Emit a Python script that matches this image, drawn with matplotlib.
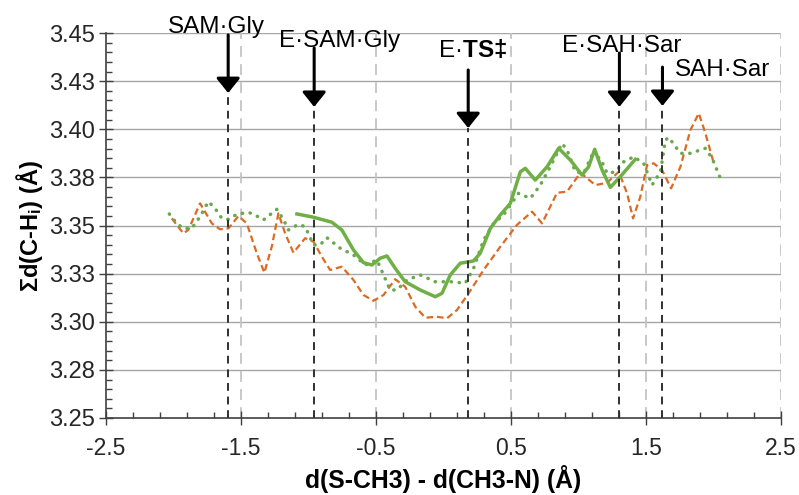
import numpy as np
import matplotlib
matplotlib.use("Agg")
import matplotlib.pyplot as plt
from matplotlib.ticker import MultipleLocator, FixedLocator

plt.rcParams['font.family'] = ['Liberation Sans', 'DejaVu Sans']
plt.rcParams['mathtext.fontset'] = 'custom'
plt.rcParams['mathtext.rm'] = 'Liberation Sans'
plt.rcParams['mathtext.bf'] = 'Liberation Sans:bold'
plt.rcParams['mathtext.it'] = 'Liberation Sans:italic'

# orange dashed series
orange_x = [-2.013, -1.927, -1.890, -1.803, -1.716, -1.655, -1.593, -1.519, -1.457, -1.383,
            -1.327, -1.272, -1.223, -1.173, -1.112, -1.025, -0.963, -0.901, -0.840, -0.753,
            -0.667, -0.593, -0.519, -0.444, -0.358, -0.284, -0.209, -0.135, -0.049, 0.026,
            0.100, 0.186, 0.297, 0.421, 0.544, 0.656, 0.730, 0.841, 0.915, 1.014,
            1.125, 1.212, 1.298, 1.360, 1.404, 1.458, 1.508, 1.557, 1.619, 1.686,
            1.755, 1.829, 1.891, 1.940, 2.002]
orange_y = [3.3537, 3.3459, 3.3477, 3.3615, 3.3511, 3.3480, 3.3485, 3.3549, 3.3511, 3.3356,
            3.3255, 3.3390, 3.3563, 3.3459, 3.3359, 3.3434, 3.3416, 3.3338, 3.3269, 3.3286,
            3.3217, 3.3139, 3.3109, 3.3139, 3.3221, 3.3182, 3.3078, 3.3021, 3.3026, 3.3018,
            3.3061, 3.3148, 3.3269, 3.3390, 3.3503, 3.3572, 3.3511, 3.3670, 3.3676, 3.3774,
            3.3710, 3.3722, 3.3779, 3.3667, 3.3537, 3.3650, 3.3814, 3.3823, 3.3788, 3.3693,
            3.3805, 3.3996, 3.4083, 3.3979, 3.3823]

# green solid series
solid_x = [-1.086, -0.963, -0.827, -0.753, -0.667, -0.593, -0.530, -0.469, -0.419, -0.358,
           -0.284, -0.172, -0.061, -0.011, 0.050, 0.124, 0.223, 0.272, 0.347, 0.421,
           0.495, 0.569, 0.606, 0.680, 0.767, 0.853, 0.940, 1.026, 1.075, 1.120,
           1.175, 1.236, 1.310, 1.421]
solid_y = [3.3560, 3.3543, 3.3517, 3.3477, 3.3373, 3.3307, 3.3295, 3.3330, 3.3342, 3.3278,
           3.3208, 3.3165, 3.3130, 3.3148, 3.3243, 3.3304, 3.3316, 3.3356, 3.3485, 3.3555,
           3.3615, 3.3779, 3.3797, 3.3736, 3.3805, 3.3901, 3.3840, 3.3762, 3.3805, 3.3896,
           3.3788, 3.3698, 3.3754, 3.3844]

# green dotted series
dot_x = [-2.031, -1.976, -1.927, -1.865, -1.803, -1.742, -1.692, -1.642, -1.593, -1.531,
         -1.445, -1.383, -1.334, -1.235, -1.186, -1.149, -1.075, -1.025, -0.963, -0.914,
         -0.864, -0.765, -0.667, -0.580, -0.493, -0.444, -0.395, -0.345, -0.271, -0.172,
         -0.061, 0.050, 0.161, 0.223, 0.297, 0.371, 0.445, 0.556, 0.643, 0.717,
         0.791, 0.878, 0.915, 0.977, 1.038, 1.100, 1.162, 1.212, 1.273, 1.335,
         1.409, 1.483, 1.545, 1.607, 1.644, 1.668, 1.755, 1.829, 1.940, 1.990, 2.051]
dot_y = [3.3560, 3.3511, 3.3485, 3.3485, 3.3546, 3.3624, 3.3589, 3.3537, 3.3532, 3.3558,
         3.3569, 3.3549, 3.3529, 3.3584, 3.3532, 3.3477, 3.3506, 3.3494, 3.3399, 3.3399,
         3.3437, 3.3382, 3.3347, 3.3295, 3.3321, 3.3243, 3.3165, 3.3165, 3.3217, 3.3243,
         3.3208, 3.3208, 3.3200, 3.3278, 3.3425, 3.3511, 3.3555, 3.3667, 3.3641, 3.3710,
         3.3805, 3.3927, 3.3892, 3.3779, 3.3771, 3.3866, 3.3849, 3.3771, 3.3779, 3.3831,
         3.3857, 3.3823, 3.3710, 3.3779, 3.3944, 3.3958, 3.3875, 3.3875, 3.3901, 3.3849, 3.3745]

# labelled states: arrow position, arrow top/tip, label placement
state_names = ['SAM·Gly', 'E·SAM·Gly', r'E·$\mathbf{TS‡}$', 'E·SAH·Sar', 'SAH·Sar']
state_x = [-1.595, -0.958, 0.183, 1.303, 1.622]
arrow_top = [3.4490, 3.4422, 3.4308, 3.4396, 3.4323]
arrow_tip = [3.4188, 3.4116, 3.4006, 3.4116, 3.4121]
label_x = [-1.685, -0.773, 0.217, 1.318, 2.066]
label_y = [3.4500, 3.4427, 3.4375, 3.4401, 3.4277]

y_ticks = [3.25, 3.275, 3.30, 3.325, 3.35, 3.375, 3.40, 3.425, 3.45]
y_tick_labels = ['3.25', '3.28', '3.30', '3.33', '3.35', '3.38', '3.40', '3.43', '3.45']
x_ticks = [-2.5, -1.5, -0.5, 0.5, 1.5, 2.5]
x_tick_labels = ['-2.5', '-1.5', '-0.5', '0.5', '1.5', '2.5']

fig = plt.figure(figsize=(7.99, 4.95), dpi=100)
ax = fig.add_axes([106/799, 1 - 418/495, 675/799, 385/495])

ax.set_xlim(-2.5, 2.5)
ax.set_ylim(3.25, 3.45)

# grid
for yv in y_ticks[1:]:
    ax.axhline(yv, color='#a6a6a6', lw=1.0, zorder=1)
for xv in x_ticks[1:]:
    ax.axvline(xv, color='#c4c4c4', lw=1.3, ls=(0, (6, 4)), zorder=1)

ax.plot(orange_x, orange_y, color='#dc6b22', lw=1.6, ls=(0, (3.0, 1.7)), zorder=3)
ax.plot(dot_x, dot_y, color='#6aa84f', lw=2.5, ls=(0, (0.1, 2.2)),
        dash_capstyle='round', zorder=3)
ax.plot(solid_x, solid_y, color='#6fb046', lw=2.5, zorder=4)

for name, sx, top, tip, lx, ly in zip(state_names, state_x, arrow_top, arrow_tip,
                                      label_x, label_y):
    ax.plot([sx, sx], [3.25, tip], color='#303030', lw=1.4, ls=(0, (4, 3)), zorder=5)
    ax.annotate('', xy=(sx, tip), xytext=(sx, top), annotation_clip=False,
                arrowprops=dict(arrowstyle='-|>,head_length=0.45,head_width=0.36',
                                mutation_scale=20, color='black', lw=2.2,
                                shrinkA=0, shrinkB=0), zorder=6)
    ax.text(lx, ly, name, ha='center', va='baseline', fontsize=17.5, zorder=6,
            clip_on=False)

for side in ['top', 'right']:
    ax.spines[side].set_visible(False)
for side in ['left', 'bottom']:
    ax.spines[side].set_color('#404040')
    ax.spines[side].set_linewidth(1.2)

ax.set_xticks(x_ticks)
ax.set_xticklabels(x_tick_labels)
ax.set_yticks(y_ticks)
ax.set_yticklabels(y_tick_labels)
ax.xaxis.set_minor_locator(FixedLocator(np.arange(-2.3, 2.5, 0.2)))
ax.yaxis.set_minor_locator(MultipleLocator(0.005))
ax.tick_params(axis='both', which='major', direction='inout', length=10, width=1.0,
               color='#404040', labelcolor='#262626')
ax.tick_params(axis='y', which='major', pad=3, labelsize=17)
ax.tick_params(axis='x', which='major', pad=9, labelsize=16.5)
ax.tick_params(axis='both', which='minor', direction='in', length=4.5, width=1.0,
               color='#404040')

ax.set_xlabel('d(S-CH3) - d(CH3-N) (Å)', fontsize=17.8, fontweight='bold', labelpad=3)
ax.set_ylabel(r'Σd(C-H$_\mathbf{i}$) (Å)', fontsize=17, fontweight='bold', labelpad=3)

fig.savefig('out.png', dpi=100)
